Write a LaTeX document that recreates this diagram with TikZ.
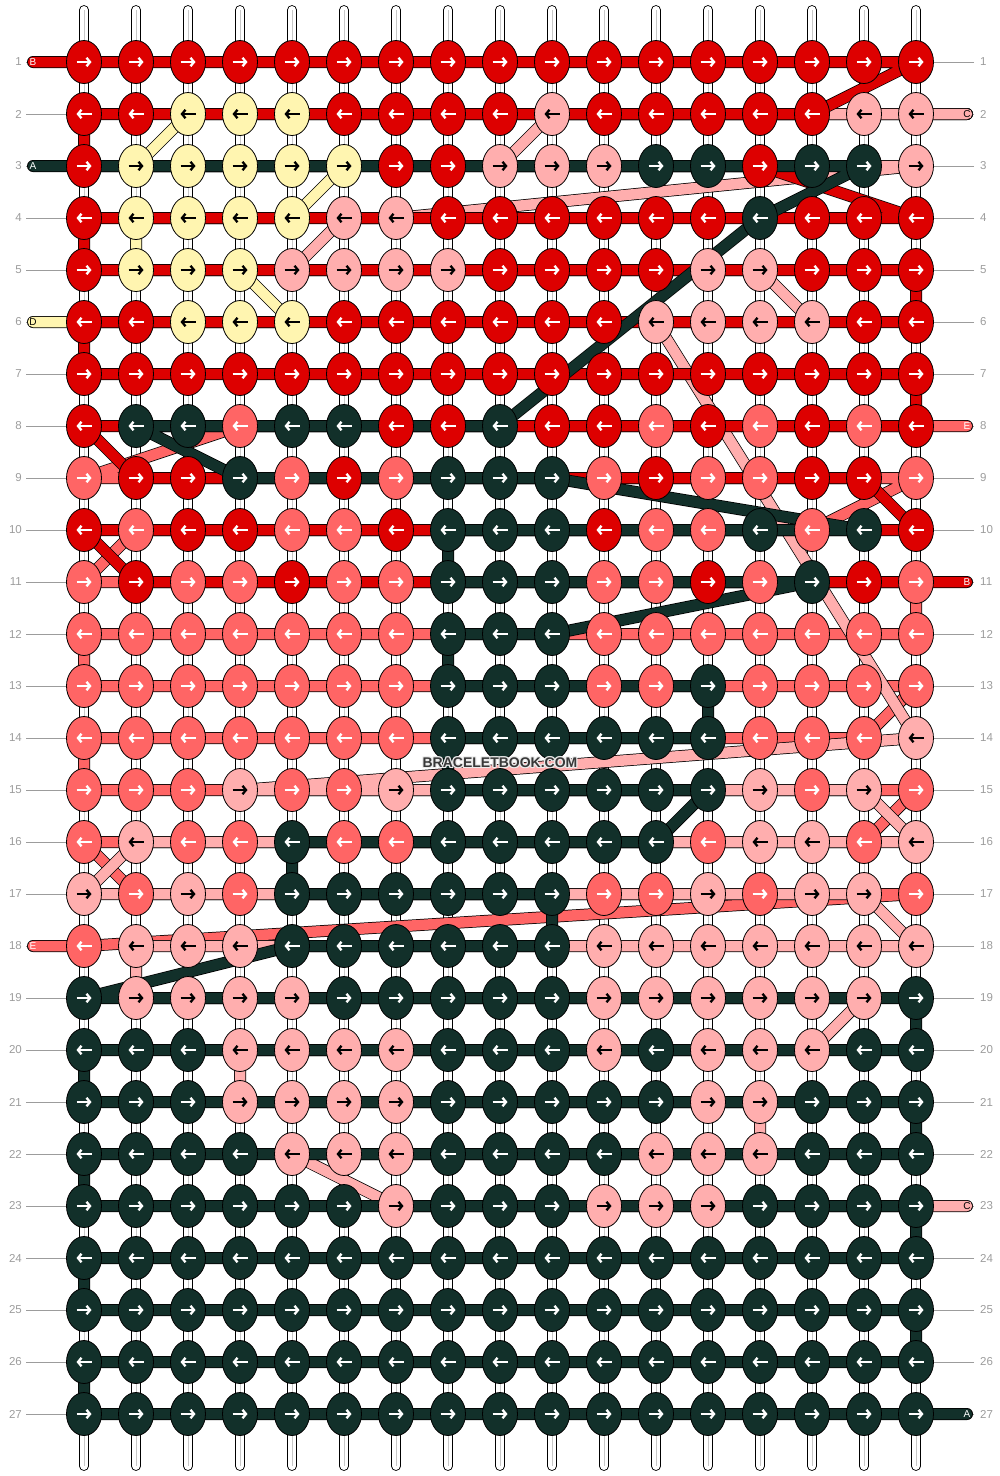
\documentclass[tikz,border=0pt]{standalone}
\usepackage{fontspec}
\setmainfont{Liberation Sans}
\usetikzlibrary{arrows.meta}
\usetikzlibrary{shapes.geometric}

\definecolor{colA}{HTML}{12302A}
\definecolor{colB}{HTML}{DD0000}
\definecolor{colC}{HTML}{FFAEAE}
\definecolor{colD}{HTML}{FFF5B0}
\definecolor{colE}{HTML}{FF6565}
\colorlet{arrA}{white}
\colorlet{arrB}{white}
\colorlet{arrC}{black}
\colorlet{arrD}{black}
\colorlet{arrE}{white}
\definecolor{numgray}{HTML}{9C9C9C}
\definecolor{markgray}{HTML}{383838}

\pgfdeclarelayer{warp}
\pgfdeclarelayer{strands}
\pgfsetlayers{warp,strands,main}

\tikzset{
  knot/.style={ellipse, draw=black, line width=0.8pt, minimum width=35pt, minimum height=43pt, inner sep=0pt},
  arr/.style={line width=2.3pt, -{Straight Barb[length=3.5pt, width=8.5pt]}},
  strand/.style={draw=black, line width=0.75pt, double distance=10.5pt, line cap=round, line join=round},
  warpline/.style={draw=black, line width=0.9pt, double=white, double distance=8pt, line cap=round},
  rownum/.style={text=numgray, font=\fontsize{11.5}{12}\selectfont, inner sep=0pt},
  endtag/.style={font=\fontsize{10}{10}\selectfont, inner sep=0pt},
  sitemark/.style={font=\bfseries\fontsize{14}{14}\selectfont, inner sep=0pt},
}

\begin{document}
\begin{tikzpicture}[x=1pt, y=-1pt]
\useasboundingbox (0,0) rectangle (1000,1476);
% knots row by row, odd rows left to right
\foreach \cells [count=\r] in {
  {B,B,B,B,B,B,B,B,B,B,B,B,B,B,B,B,B},
  {B,B,D,D,D,B,B,B,B,C,B,B,B,B,B,C,C},
  {B,D,D,D,D,D,B,B,C,C,C,A,A,B,A,A,C},
  {B,D,D,D,D,C,C,B,B,B,B,B,B,A,B,B,B},
  {B,D,D,D,C,C,C,C,B,B,B,B,C,C,B,B,B},
  {B,B,D,D,D,B,B,B,B,B,B,C,C,C,C,B,B},
  {B,B,B,B,B,B,B,B,B,B,B,B,B,B,B,B,B},
  {B,A,A,E,A,A,B,B,A,B,B,E,B,E,B,E,B},
  {E,B,B,A,E,B,E,A,A,A,E,B,E,E,B,B,E},
  {B,E,B,B,E,E,B,A,A,A,B,E,E,A,E,A,B},
  {E,B,E,E,B,E,E,A,A,A,E,E,B,E,A,B,E},
  {E,E,E,E,E,E,E,A,A,A,E,E,E,E,E,E,E},
  {E,E,E,E,E,E,E,A,A,A,E,E,A,E,E,E,E},
  {E,E,E,E,E,E,E,A,A,A,A,A,A,E,E,E,C},
  {E,E,E,C,E,E,C,A,A,A,A,A,A,C,E,C,E},
  {E,C,E,E,A,E,E,A,A,A,A,A,E,C,C,E,C},
  {C,E,C,E,A,A,A,A,A,A,E,E,C,E,C,C,E},
  {E,C,C,C,A,A,A,A,A,A,C,C,C,C,C,C,C},
  {A,C,C,C,C,A,A,A,A,A,C,C,C,C,C,C,A},
  {A,A,A,C,C,C,C,A,A,A,C,A,C,C,C,A,A},
  {A,A,A,C,C,C,C,A,A,A,A,A,C,C,A,A,A},
  {A,A,A,A,C,C,C,A,A,A,A,C,C,C,A,A,A},
  {A,A,A,A,A,A,C,A,A,A,C,C,C,A,A,A,A},
  {A,A,A,A,A,A,A,A,A,A,A,A,A,A,A,A,A},
  {A,A,A,A,A,A,A,A,A,A,A,A,A,A,A,A,A},
  {A,A,A,A,A,A,A,A,A,A,A,A,A,A,A,A,A},
  {A,A,A,A,A,A,A,A,A,A,A,A,A,A,A,A,A}}{
  \pgfmathtruncatemacro\dir{mod(\r,2)==1 ? 1 : -1}
  \foreach \k [count=\c] in \cells {
    \expandafter\xdef\csname g-\r-\c\endcsname{\k}
    \node[knot, fill=col\k] (k-\r-\c) at ({84+52*(\c-1)}, {62+52*(\r-1)}) {};
    \draw[arr, draw=arr\k] (k-\r-\c.center) ++(-7.5*\dir,0) -- ++(15*\dir,0);
  }
}

% string ends
\coordinate (sA) at (33,166);  \coordinate (eA) at (967,1414);
\coordinate (sB) at (33,62);   \coordinate (eB) at (967,582);
\coordinate (sC) at (967,114); \coordinate (eC) at (967,1206);
\coordinate (sD) at (967,114); \coordinate (eD) at (33,322);
\coordinate (sE) at (967,426); \coordinate (eE) at (33,946);

% white base strings, row numbers
\begin{pgfonlayer}{warp}
  \foreach \c in {1,...,17} {
    \coordinate (top-\c) at ({84+52*(\c-1)}, 10);
    \coordinate (bot-\c) at ({84+52*(\c-1)}, 1466);
    \draw[warpline] (top-\c) -- (bot-\c);
    \draw[black!22, line width=0.6pt] (top-\c) -- (bot-\c);
  }
  \foreach \r in {1,...,27} {
    \node[rownum, anchor=east] (ln-\r) at (22, {62+52*(\r-1)}) {\r};
    \node[rownum, anchor=west] (rn-\r) at (980, {62+52*(\r-1)}) {\r};
    \draw[numgray, line width=0.8pt] (ln-\r.east) ++(4,0) -- (k-\r-1);
    \draw[numgray, line width=0.8pt] (rn-\r.west) ++(-6,0) -- (k-\r-17);
  }
\end{pgfonlayer}

% coloured strings through their knots
\begin{pgfonlayer}{strands}
  \foreach \s in {D,E,C,B,A} {
    \xdef\pth{(s\s)}
    \foreach \r in {1,...,27} {
      \ifodd\r \def\ord{1,...,17}\else \def\ord{17,16,...,1}\fi
      \foreach \c in \ord {
        \if\csname g-\r-\c\endcsname\s \xdef\pth{\pth -- (k-\r-\c.center)}\fi
      }
    }
    \edef\doit{\noexpand\draw[strand, double=col\s] \pth -- (e\s);}
    \doit
  }
\end{pgfonlayer}

\foreach \s/\p in {B/sB, C/sC, A/sA, D/eD, E/sE, B/eB, E/eE, C/eC, A/eA}
  \node[endtag, text=arr\s] (tag-\p) at (\p) {\s};

% site mark with a light halo
\foreach \dx/\dy [count=\i] in {1/0, -1/0, 0/1, 0/-1, 1/1, 1/-1, -1/1, -1/-1}
  \node[sitemark, text=white!92!black] (halo-\i) at (500+\dx, 763+\dy) {BRACELETBOOK.COM};
\node[sitemark, text=markgray] (site) at (500,763) {BRACELETBOOK.COM};
\end{tikzpicture}
\end{document}
